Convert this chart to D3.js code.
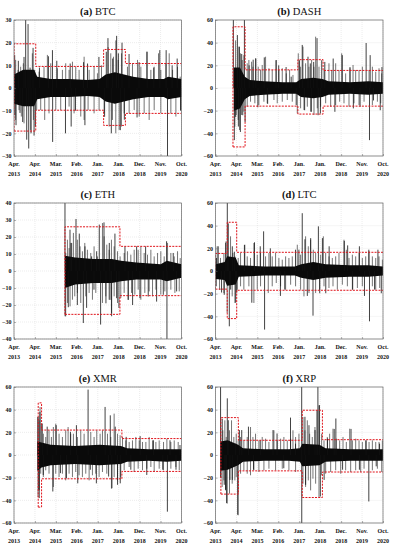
<!DOCTYPE html>
<html lang="en">
<head>
<meta charset="UTF-8">
<title>Crypto returns</title>
<script src="https://d3js.org/d3.v7.min.js"></script>
<style>
  body { margin: 0; background: #fff; }
  svg text { font-family: "Liberation Serif", "Times New Roman", serif; }
</style>
</head>
<body>
<svg id="chart" width="393" height="550"></svg>
<script>
// x axis: days since Apr. 2013, ticks spaced evenly
const tickDays = [0, 342.5, 685, 1027.5, 1370, 1712.5, 2055, 2397.5, 2740];
const tickMonths = ["Apr.", "Apr.", "Mar.", "Feb.", "Jan.", "Jan.", "Dec.", "Nov.", "Oct."];
const tickYears = ["2013", "2014", "2015", "2016", "2017", "2018", "2018", "2019", "2020"];

// ---- BTC ----  band: [day, hi, lo] of the dense core
const btcBand = [[0,6,-7],[150,8,-8],[330,8,-8],[380,5,-5],[600,4,-4],[900,4,-4],[1200,3.5,-3.5],[1400,4,-4],[1500,6,-6],[1650,7,-7],[1800,6,-6],[1950,5,-5],[2200,4,-4],[2450,4,-4],[2520,5,-5],[2740,4,-4]];
const btcSpikes = [[11,14.5],[13,-12],[33,-16.4],[71,12],[98,-11],[142,-15],[164,13.7],[191,30],[208,-22.8],[230,28.2],[241,-26.7],[263,9],[279,-20],[312,17.7],[328,-21],[350,-17],[416,9],[563,14],[629,16.7],[632,-23.8],[700,12],[842,-20],[919,10.8],[935,-17],[1006,-10],[1138,11.4],[1160,-16.4],[1203,10.8],[1389,13.7],[1482,-12.7],[1510,16],[1537,22],[1592,-20],[1614,13],[1679,23],[1707,15.3],[1739,-18.6],[1767,20],[1805,-14],[1882,15],[2013,-13],[2046,11.4],[2177,16],[2286,9],[2385,16.7],[2489,16.7],[2511,-32],[2587,10],[2669,13],[2724,-10]];
const btcMinor = [[27,12.4],[66,8],[109,9.4],[153,10.9],[300,15.3],[339,8],[410,7.2],[491,9.4],[546,14.6],[601,10.9],[710,8.7],[792,8],[846,10.9],[901,8],[956,11.6],[1010,9.4],[1065,8],[1147,13.8],[1229,8],[1310,9.4],[1365,6.5],[1431,10],[1540,18],[1583,15.3],[1627,13.8],[1665,21],[1704,12.4],[1758,15.3],[1856,9.4],[1938,10.9],[2020,12.4],[2075,9.4],[2173,16],[2239,8],[2293,9.4],[2364,15.3],[2402,8],[2484,10.9],[2539,15.3],[2594,8],[2675,9.4],[2719,5],
  [27,-14.1],[82,-9.7],[120,-12.6],[164,-15.6],[273,-18.5],[317,-14.1],[371,-9.7],[437,-9.7],[502,-14.1],[573,-11.2],[683,-9.7],[764,-9.7],[901,-8.2],[983,-11.2],[1092,-12.6],[1147,-14.1],[1212,-9.7],[1310,-11.2],[1392,-9.7],[1474,-11.2],[1556,-17],[1611,-14.1],[1665,-20],[1720,-18.5],[1758,-17],[1802,-11.2],[1884,-11.2],[1966,-9.7],[2048,-12.6],[2129,-11.2],[2211,-14.1],[2293,-9.7],[2402,-11.2],[2566,-11.2],[2648,-12.6],[2730,-9.7]];
const btcRegimes = [[0,356,19.5,-19],[356,1466,9.5,-9.8],[1466,1822,17,-16.5],[1822,2740,10.8,-11.2]];

// ---- DASH ----
const dashBand = [[300,18,-20],[400,18,-18],[480,10,-10],[560,7,-7],[800,6,-6],[1100,5,-5],[1320,5,-5],[1400,8,-8],[1600,9,-9],[1750,8,-8],[1850,6,-6],[2200,5,-5],[2500,6,-6],[2740,5,-5]];
const dashSpikes = [[292,62],[308,-46],[330,-25.5],[358,46.7],[374,-34],[391,36.4],[407,-38.8],[429,30],[446,-24],[473,62],[484,-30],[550,20],[616,25],[660,26],[693,-17],[798,27],[853,-14],[990,24.5],[1034,20],[1155,18.5],[1238,10],[1320,-15],[1375,24.5],[1419,38],[1458,-19.6],[1513,27.6],[1551,21.7],[1568,-21],[1606,23],[1661,44],[1678,-24],[1716,-22.5],[1738,24.5],[1788,23],[1925,26],[1953,-21],[2074,29],[2200,18.5],[2255,-18],[2365,-16.5],[2464,39.7],[2519,-46],[2530,29],[2585,-11],[2695,-19.6],[2723,18.5]];
const dashMinor = [[328,42],[382,36.5],[410,30.6],[437,24.7],[464,29],[519,21.8],[546,24.7],[590,23.2],[612,18.8],[655,26.2],[699,18.8],[737,15.9],[764,20.3],[819,27.6],[874,17.4],[928,15.9],[994,24.7],[1037,15.9],[1092,17.4],[1158,12.9],[1212,15.9],[1267,11.5],[1354,30.6],[1392,18.8],[1431,36.5],[1474,21.8],[1529,18.8],[1572,24.7],[1611,18.8],[1638,45.3],[1693,18.8],[1775,15.9],[1856,21.8],[1900,15.9],[1966,21.8],[2020,15.9],[2064,30.6],[2129,12.9],[2200,17.4],[2250,20.3],[2293,15.9],[2348,15.9],[2402,18.8],[2512,15.9],[2566,18.8],[2621,14.4],[2675,17.4],[2719,12.9],
  [317,-34.1],[339,-23.8],[371,-28.2],[393,-37.1],[426,-23.8],[464,-20.9],[519,-16.5],[573,-12.1],[644,-13.5],[710,-15],[792,-12.1],[846,-13.5],[956,-10.6],[1010,-13.5],[1092,-12.1],[1174,-10.6],[1256,-12.1],[1338,-22.4],[1392,-17.9],[1447,-19.4],[1502,-16.5],[1556,-20.9],[1611,-23.8],[1665,-17.9],[1720,-16.5],[1802,-13.5],[1884,-16.5],[1966,-15],[2031,-12.1],[2102,-13.5],[2184,-16.5],[2266,-13.5],[2348,-15],[2430,-12.1],[2566,-15],[2648,-12.1],[2703,-13.5]];
const dashRegimes = [[286,484,54,-52],[484,1348,16,-16],[1348,1760,25,-23],[1760,2740,15.5,-16]];

// ---- ETH ----
const ethBand = [[834,9,-10],[1000,8,-8],[1300,7,-7],[1600,7,-7],[1750,6,-6],[2000,5,-5],[2400,4,-5],[2500,6,-6],[2740,4,-4]];
const ethSpikes = [[834,42],[836,-26.6],[861,8.6],[888,-21.3],[916,24.3],[943,16.5],[1014,30.6],[1036,-20],[1068,22],[1134,-30.6],[1161,14.5],[1188,-21.7],[1270,8.6],[1308,-11],[1352,11.6],[1395,27.3],[1417,-31.5],[1472,28.6],[1504,-19],[1559,16.5],[1570,-17],[1597,-26.6],[1651,22],[1679,-16],[1717,-21.7],[1815,14.5],[1869,-17],[1940,-20],[2006,14.5],[2060,-16],[2153,14.5],[2196,-15],[2333,-18],[2442,-14],[2496,17.5],[2502,-42],[2605,10.6],[2660,-12]];
const ethMinor = [[846,10.6],[874,18.4],[901,13.5],[928,16.5],[972,22.4],[1037,18.4],[1081,14.5],[1119,11.6],[1158,16.5],[1201,12.5],[1256,10.6],[1310,14.5],[1365,8.6],[1447,28.2],[1474,20.4],[1518,15.5],[1556,12.5],[1594,18.4],[1638,14.5],[1693,11.6],[1736,8.6],[1802,10.6],[1856,11.6],[1911,9.6],[1966,12.5],[2031,12.5],[2075,14.5],[2129,10.6],[2184,9.6],[2239,12.5],[2293,8.6],[2348,10.6],[2402,11.6],[2457,8.6],[2512,16.5],[2566,10.6],[2621,8.6],[2675,11.6],[2719,7.6],
  [846,-26.7],[874,-18.8],[917,-20.8],[956,-16.9],[994,-14.9],[1037,-12.9],[1092,-18.8],[1174,-14.9],[1229,-12.9],[1283,-16.9],[1338,-12.9],[1447,-18.8],[1502,-14.9],[1556,-16.9],[1594,-24.7],[1638,-14.9],[1693,-18.8],[1747,-15.9],[1802,-12.9],[1867,-16.9],[1922,-12.9],[1977,-13.9],[2031,-11],[2075,-16.9],[2140,-12.9],[2211,-12],[2266,-14.9],[2321,-11],[2402,-13.9],[2468,-12],[2566,-11],[2632,-12.9],[2703,-12]];
const ethRegimes = [[834,1733,26,-25.5],[1733,2740,14.5,-14.5]];

// ---- LTC ----
const ltcBand = [[0,6,-7],[150,8,-8],[190,13,-13],[330,12,-12],[380,5,-5],[800,4,-4],[1300,4,-4],[1400,6,-6],[1600,8,-8],[1800,6,-6],[2200,5,-5],[2500,5,-5],[2740,4,-4]];
const ltcSpikes = [[17,11.5],[44,21.8],[99,-19],[143,-21],[171,26],[193,62],[209,42],[226,-48.8],[248,-16.4],[275,21.8],[308,17],[330,-28],[347,-19],[473,23],[594,-28],[638,25.3],[732,21.8],[787,35],[803,-51.7],[897,20],[1062,-22],[1133,-16.4],[1309,18.8],[1364,18.8],[1419,51],[1463,28],[1502,-22],[1557,29],[1595,-39.4],[1683,39.4],[1705,-19.6],[1749,29],[1804,-19.6],[1859,21.8],[2107,26.5],[2162,22.6],[2244,-16.4],[2354,21.8],[2437,-22],[2508,18.8],[2519,-44.4],[2602,-16.4],[2657,18.8],[2712,-19.6]];
const ltcMinor = [[27,21.8],[82,11.5],[137,15.9],[164,24.7],[246,30.6],[284,15.9],[317,12.9],[371,11.5],[410,15.9],[480,23.2],[519,12.9],[573,11.5],[628,24.7],[683,14.4],[737,15.9],[819,12.9],[874,15.9],[928,12.9],[983,15.9],[1037,11.5],[1092,10],[1147,12.9],[1201,11.5],[1256,12.9],[1338,23.2],[1392,14.4],[1474,30.6],[1518,21.8],[1556,27.6],[1600,18.8],[1638,15.9],[1720,14.4],[1764,30.6],[1802,15.9],[1856,12.9],[1911,11.5],[1966,12.9],[2020,15.9],[2102,27.6],[2140,18.8],[2184,11.5],[2239,14.4],[2293,12.9],[2348,15.9],[2402,11.5],[2457,12.9],[2512,17.4],[2566,12.9],[2621,11.5],[2675,12.9],[2730,10],
  [16,-13.5],[66,-16.5],[137,-19.4],[191,-37],[273,-22.4],[317,-28.2],[355,-16.5],[410,-13.5],[464,-16.5],[546,-13.5],[628,-28.2],[683,-16.5],[737,-13.5],[863,-19.4],[928,-13.5],[994,-10.6],[1065,-13.5],[1147,-16.5],[1229,-12.1],[1310,-13.5],[1392,-16.5],[1447,-22.4],[1529,-19.4],[1638,-19.4],[1704,-16.5],[1775,-13.5],[1856,-15],[1922,-13.5],[1993,-16.5],[2075,-12.1],[2157,-13.5],[2239,-16.5],[2321,-15],[2402,-13.5],[2566,-13.5],[2621,-16.5],[2686,-15]];
const ltcRegimes = [[0,192,15.5,-16],[192,347,43,-42],[347,2740,16.5,-17]];

// ---- XMR ----
const xmrBand = [[382,12,-14],[450,11,-11],[600,9,-9],[1000,8,-8],[1400,9,-9],[1750,8,-8],[1850,6,-6],[2200,5,-5],[2500,5,-6],[2740,5,-5]];
const xmrSpikes = [[391,33.7],[407,-30.7],[413,-38],[424,38],[462,27.8],[478,-17.6],[543,25],[635,-32.2],[690,26.3],[760,-16],[858,-20.5],[923,20.5],[1021,26.3],[1043,-25],[1212,57.7],[1249,-13],[1347,-25],[1490,42.4],[1548,-19],[1575,35],[1602,-29.3],[1656,25],[1694,-26.3],[1738,-25],[1835,16],[1911,-13],[2063,16.7],[2172,-17.6],[2281,13],[2433,-13],[2509,-50],[2552,13],[2650,-13],[2715,8.8]];
const xmrMinor = [[393,33.5],[410,30.6],[426,42.4],[448,27.6],[480,18.8],[519,15.9],[573,21.8],[612,15.9],[644,24.7],[683,27.6],[737,18.8],[792,15.9],[846,21.8],[885,24.7],[928,18.8],[972,18.8],[1037,15.9],[1092,21.8],[1147,18.8],[1256,20.3],[1310,15.9],[1354,21.8],[1409,18.8],[1447,21.8],[1529,18.8],[1583,15.9],[1638,36.5],[1693,18.8],[1736,17.4],[1775,15.9],[1829,12.9],[1884,11.5],[1938,12.9],[1993,15.9],[2048,12.9],[2102,11.5],[2157,11.5],[2211,15.9],[2266,12.9],[2321,11.5],[2375,12.9],[2446,11.5],[2501,14.4],[2566,11.5],[2621,12.9],[2686,11.5],
  [393,-37],[410,-31.2],[437,-16.5],[480,-19.4],[519,-13.5],[573,-16.5],[644,-28.2],[683,-16.5],[737,-19.4],[792,-16.5],[846,-22.4],[901,-16.5],[956,-19.4],[1010,-15],[1065,-17.9],[1119,-19.4],[1174,-16.5],[1229,-22.4],[1283,-17.9],[1338,-16.5],[1392,-19.4],[1447,-15],[1518,-16.5],[1594,-29.7],[1638,-19.4],[1693,-22.4],[1747,-19.4],[1802,-13.5],[1884,-10.6],[1966,-15],[2031,-12.1],[2102,-13.5],[2173,-12.1],[2239,-10.6],[2293,-15],[2375,-12.1],[2446,-13.5],[2566,-12.1],[2648,-10.6],[2703,-13.5]];
const xmrRegimes = [[396,451,46,-46],[451,1765,22,-21],[1765,2740,14.5,-14.5]];

// ---- XRP ----
const xrpBand = [[82,12,-14],[200,13,-13],[370,9,-9],[450,6,-6],[800,5,-5],[1200,5,-5],[1380,6,-6],[1420,10,-10],[1700,9,-9],[1800,6,-6],[2200,5,-5],[2740,5,-5]];
const xrpSpikes = [[83,62],[88,-20.5],[110,32],[143,-26.3],[165,-30.7],[182,-42.4],[193,50],[209,30.7],[237,-22],[275,-22],[330,10],[363,-52.7],[391,22],[429,22],[539,25],[622,-13],[732,13],[941,22],[1007,19],[1117,-11.7],[1227,33],[1309,10],[1410,62],[1411,-62],[1463,33.7],[1474,-26.3],[1529,26.3],[1628,22],[1660,39.5],[1675,62],[1700,44],[1715,-36.6],[1777,-22],[1832,14.6],[1942,23],[1969,32.2],[2079,-13],[2217,23],[2354,-13],[2464,13],[2508,-41],[2629,-10],[2684,10]];
const xrpMinor = [[120,21.8],[153,30.6],[175,15.9],[229,21.8],[262,30.6],[300,15.9],[339,18.8],[371,12.9],[410,15.9],[464,12.9],[519,15.9],[573,24.7],[612,15.9],[655,18.8],[710,12.9],[764,15.9],[819,14.4],[874,11.5],[956,21.8],[1010,12.9],[1065,14.4],[1119,15.9],[1174,12.9],[1229,14.4],[1267,21.8],[1310,15.9],[1365,18.8],[1431,33.5],[1463,21.8],[1502,30.6],[1540,18.8],[1583,15.9],[1627,24.7],[1693,43.8],[1736,18.8],[1775,12.9],[1829,15.9],[1867,18.8],[1922,23.2],[1977,14.4],[2031,12.9],[2086,15.9],[2140,11.5],[2195,23.2],[2239,12.9],[2293,14.4],[2348,12.9],[2402,11.5],[2457,12.9],[2512,11.5],[2566,12.9],[2621,11.5],[2675,11.5],[2730,12.9],
  [82,-19.4],[109,-28.2],[137,-22.4],[164,-31.2],[191,-42.9],[229,-34.1],[273,-25.3],[317,-22.4],[339,-19.4],[371,-53.2],[410,-16.5],[464,-13.5],[519,-16.5],[573,-17.9],[628,-13.5],[710,-15],[792,-13.5],[874,-12.1],[983,-13.5],[1092,-12.1],[1201,-13.5],[1310,-15],[1431,-25.3],[1474,-28.2],[1518,-22.4],[1556,-31.2],[1594,-20.9],[1638,-25.3],[1693,-37.1],[1736,-17.9],[1802,-16.5],[1884,-15],[1966,-13.5],[2048,-16.5],[2129,-13.5],[2211,-15],[2293,-13.5],[2375,-15],[2430,-12.1],[2566,-13.5],[2648,-12.1],[2719,-15]];
const xrpRegimes = [[88,374,33,-34.5],[374,1419,13,-14],[1419,1749,39.5,-37.5],[1749,2740,13.5,-15]];

const panels = [
  {letter: "a", name: "BTC",  band: btcBand,  spikes: btcSpikes,  minor: btcMinor,  regimes: btcRegimes,  yMax: 30, yStep: 10},
  {letter: "b", name: "DASH", band: dashBand, spikes: dashSpikes, minor: dashMinor, regimes: dashRegimes, yMax: 60, yStep: 20},
  {letter: "c", name: "ETH",  band: ethBand,  spikes: ethSpikes,  minor: ethMinor,  regimes: ethRegimes,  yMax: 40, yStep: 10},
  {letter: "d", name: "LTC",  band: ltcBand,  spikes: ltcSpikes,  minor: ltcMinor,  regimes: ltcRegimes,  yMax: 60, yStep: 20},
  {letter: "e", name: "XMR",  band: xmrBand,  spikes: xmrSpikes,  minor: xmrMinor,  regimes: xmrRegimes,  yMax: 60, yStep: 20},
  {letter: "f", name: "XRP",  band: xrpBand,  spikes: xrpSpikes,  minor: xrpMinor,  regimes: xrpRegimes,  yMax: 60, yStep: 20}
];

const svg = d3.select("#chart");
const pw = 167.5, ph = 136;
const lefts = [14, 215.5], tops = [20, 203, 387];

panels.forEach(function (p, i) {
  const left = lefts[i % 2], top = tops[Math.floor(i / 2)];
  const g = svg.append("g").attr("transform", `translate(${left},${top})`);

  const x = d3.scaleLinear().domain([0, 2740]).range([0, pw]);
  const y = d3.scaleLinear().domain([-p.yMax, p.yMax]).range([ph, 0]);
  const yTicks = d3.range(-p.yMax, p.yMax + 0.1, p.yStep);

  // grid
  g.append("g").selectAll("line").data(tickDays).join("line")
    .attr("x1", d => x(d)).attr("x2", d => x(d))
    .attr("y1", 0).attr("y2", ph)
    .attr("stroke", "#d8d8d8").attr("stroke-width", 0.5).attr("stroke-dasharray", "1,1");
  g.append("g").selectAll("line").data(yTicks).join("line")
    .attr("x1", 0).attr("x2", pw)
    .attr("y1", d => y(d)).attr("y2", d => y(d))
    .attr("stroke", "#d8d8d8").attr("stroke-width", 0.5).attr("stroke-dasharray", "1,1");

  const clipId = "clip" + i;
  g.append("clipPath").attr("id", clipId)
    .append("rect").attr("width", pw).attr("height", ph);
  const plot = g.append("g").attr("clip-path", `url(#${clipId})`);

  // medium moves, drawn a little lighter
  plot.append("g").selectAll("line").data(p.minor).join("line")
    .attr("x1", d => x(d[0])).attr("x2", d => x(d[0]))
    .attr("y1", y(0)).attr("y2", d => y(d[1]))
    .attr("stroke", "#3a3a3a").attr("stroke-width", 0.7);

  // dense core of the return series
  const area = d3.area()
    .x(d => x(d[0])).y0(d => y(d[2])).y1(d => y(d[1]));
  plot.append("path").datum(p.band)
    .attr("d", area).attr("fill", "#0a0a0a");

  // big spikes
  plot.append("g").selectAll("line").data(p.spikes).join("line")
    .attr("x1", d => x(d[0])).attr("x2", d => x(d[0]))
    .attr("y1", y(0)).attr("y2", d => y(d[1]))
    .attr("stroke", "#111").attr("stroke-width", 0.8);

  // regime bounds (red dashed)
  const up = [], lo = [];
  up.push([p.regimes[0][0], p.regimes[0][3]]);
  p.regimes.forEach(function (r) {
    up.push([r[0], r[2]], [r[1], r[2]]);
    lo.push([r[0], r[3]], [r[1], r[3]]);
  });
  const line = d3.line().x(d => x(d[0])).y(d => y(d[1]));
  [up, lo].forEach(function (pts) {
    plot.append("path").datum(pts)
      .attr("d", line).attr("fill", "none")
      .attr("stroke", "#e0141b").attr("stroke-width", 1)
      .attr("stroke-dasharray", "2,1.2");
  });

  // frame
  g.append("rect").attr("width", pw).attr("height", ph)
    .attr("fill", "none").attr("stroke", "#666").attr("stroke-width", 0.7);

  // y ticks
  const ya = g.append("g").call(d3.axisLeft(y).tickValues(yTicks).tickSize(-2).tickPadding(2.5));
  ya.select(".domain").remove();
  ya.selectAll("line").attr("stroke", "#666").attr("stroke-width", 0.5);
  ya.selectAll("text").attr("font-size", 6).attr("font-weight", "bold").attr("fill", "#111");

  // x ticks (two-line labels)
  const xa = g.append("g").attr("transform", `translate(0,${ph})`)
    .call(d3.axisBottom(x).tickValues(tickDays).tickSize(-2).tickFormat(""));
  xa.select(".domain").remove();
  xa.selectAll("line").attr("stroke", "#666").attr("stroke-width", 0.5);
  const lab = g.append("g").selectAll("text").data(tickDays).join("text")
    .attr("x", d => x(d)).attr("text-anchor", "middle")
    .attr("font-size", 6).attr("font-weight", "bold").attr("fill", "#111");
  lab.append("tspan").attr("x", d => x(d)).attr("y", ph + 10).text((d, k) => tickMonths[k]);
  lab.append("tspan").attr("x", d => x(d)).attr("y", ph + 19.5).text((d, k) => tickYears[k]);

  // title
  const t = g.append("text").attr("x", pw / 2).attr("y", -5)
    .attr("text-anchor", "middle").attr("font-size", 10.5).attr("fill", "#111");
  t.append("tspan").attr("font-weight", "bold").text(`(${p.letter})`);
  t.append("tspan").text(" " + p.name);
});
</script>
</body>
</html>
